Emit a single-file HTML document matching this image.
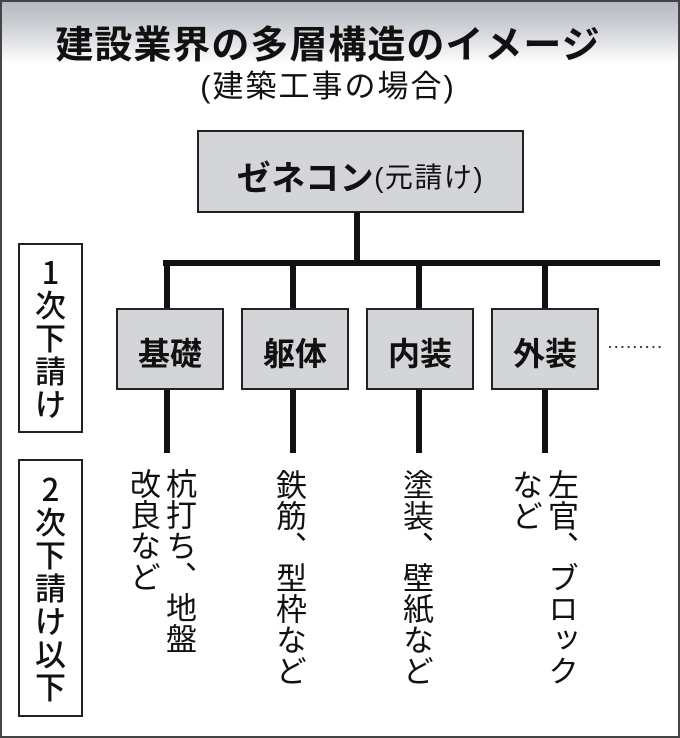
<!DOCTYPE html>
<html><head><meta charset="utf-8">
<style>
html,body{margin:0;padding:0;background:#fff;}
body{width:680px;height:738px;position:relative;overflow:hidden;font-family:"Liberation Sans","Noto Sans CJK JP",sans-serif;color:#111;}
.frame{position:absolute;left:0;top:0;width:676px;height:734px;border:2px solid #444;background:#fff;}
.hdr{position:absolute;left:2px;top:2px;width:676px;height:62px;background:linear-gradient(#b6bac1 0px,#cdd0d5 25px,#e8e9ec 45px,#fff 62px);}
.abs{position:absolute;}
.title{left:0;width:656px;top:22px;text-align:center;font-size:38px;line-height:40px;font-weight:bold;letter-spacing:1px;white-space:nowrap;font-family:"Noto Sans CJK JP",sans-serif;}
.sub{left:0;width:656px;top:70px;text-align:center;font-size:31px;line-height:34px;letter-spacing:2px;white-space:nowrap;}
.box{position:absolute;box-sizing:border-box;border:2px solid #222;background:#d4d5d8;display:flex;align-items:center;justify-content:center;white-space:nowrap;}
.lv1{top:308px;height:82px;width:108px;font-size:32px;font-weight:bold;font-family:"Noto Sans CJK JP",sans-serif;padding-top:6px;}
.ln{position:absolute;background:#111;}
.lab{position:absolute;left:18px;width:65px;box-sizing:border-box;border:2px solid #222;background:#fff;}
.stack{position:absolute;left:18px;width:65px;text-align:center;font-size:31px;line-height:33px;font-weight:500;font-family:"Noto Sans CJK JP",sans-serif;}
.vt{position:absolute;writing-mode:vertical-rl;font-size:31px;line-height:36px;font-family:"Noto Sans CJK JP",sans-serif;white-space:nowrap;}
</style></head><body>
<div class="frame"></div>
<div class="hdr"></div>
<div class="abs title">建設業界の多層構造のイメージ</div>
<div class="abs sub">(建築工事の場合)</div>

<div class="box" style="left:197px;top:130px;width:327px;height:83px;padding-top:8px;">
  <span style="font-family:'Noto Sans CJK JP',sans-serif;font-size:34px;font-weight:bold;letter-spacing:0.5px;">ゼネコン</span><span style="font-size:28px;letter-spacing:1.5px;">(元請け)</span>
</div>

<!-- connectors -->
<div class="ln" style="left:354px;top:212px;width:6px;height:54px;"></div>
<div class="ln" style="left:163px;top:260px;width:497px;height:6px;"></div>
<div class="ln" style="left:164px;top:260px;width:6px;height:48px;"></div>
<div class="ln" style="left:290px;top:260px;width:6px;height:48px;"></div>
<div class="ln" style="left:416px;top:260px;width:6px;height:48px;"></div>
<div class="ln" style="left:542px;top:260px;width:6px;height:48px;"></div>
<div class="ln" style="left:164px;top:389px;width:6px;height:64px;"></div>
<div class="ln" style="left:290px;top:389px;width:6px;height:64px;"></div>
<div class="ln" style="left:416px;top:389px;width:6px;height:64px;"></div>
<div class="ln" style="left:542px;top:389px;width:6px;height:64px;"></div>

<div class="box lv1" style="left:116px;">基礎</div>
<div class="box lv1" style="left:241px;">躯体</div>
<div class="box lv1" style="left:366px;">内装</div>
<div class="box lv1" style="left:491px;">外装</div>

<svg class="abs" style="left:605px;top:342px;" width="60" height="10">
  <g fill="#333">
    <circle cx="5" cy="5" r="1.1"/><circle cx="11.2" cy="5" r="1.1"/><circle cx="17.4" cy="5" r="1.1"/>
    <circle cx="23.6" cy="5" r="1.1"/><circle cx="29.8" cy="5" r="1.1"/><circle cx="36" cy="5" r="1.1"/>
    <circle cx="42.2" cy="5" r="1.1"/><circle cx="48.4" cy="5" r="1.1"/><circle cx="54.6" cy="5" r="1.1"/>
  </g>
</svg>

<!-- left labels -->
<div class="lab" style="top:243px;height:190px;"></div>
<div class="stack" style="top:254px;">1<br>次<br>下<br>請<br>け</div>
<div class="lab" style="top:459px;height:258px;"></div>
<div class="stack" style="top:471px;">2<br>次<br>下<br>請<br>け<br>以<br>下</div>

<!-- second-tier texts -->
<div class="vt" style="left:127px;top:468px;width:72px;">杭打ち、地盤<br>改良など</div>
<div class="vt" style="left:273px;top:469px;width:36px;">鉄筋、型枠など</div>
<div class="vt" style="left:400px;top:469px;width:36px;">塗装、壁紙など</div>
<div class="vt" style="left:509px;top:469px;width:72px;">左官、ブロック<br>など</div>
</body></html>
